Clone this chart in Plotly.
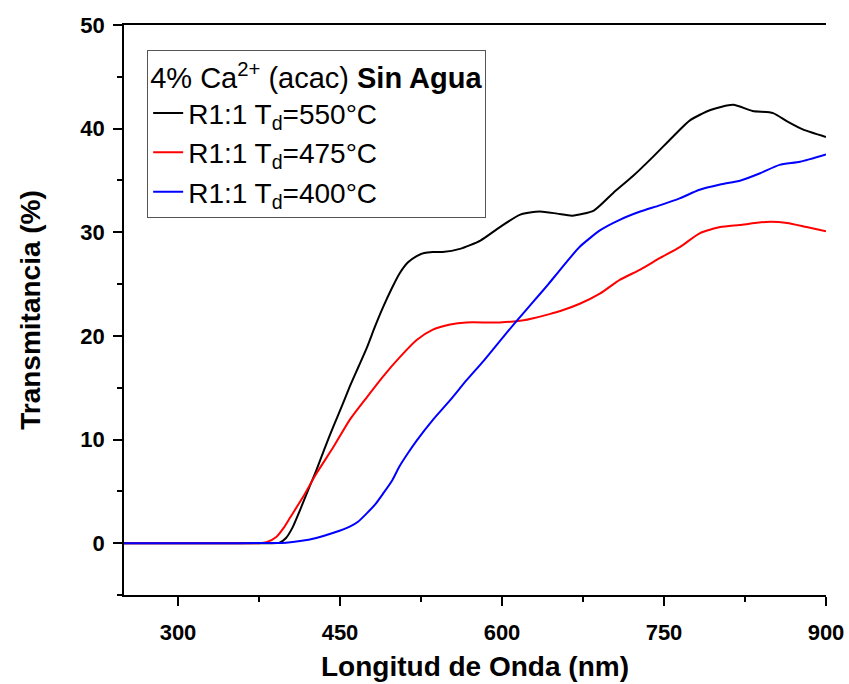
import plotly.graph_objects as go

# ---- data ----
x_550 = [250, 300, 350, 385, 394, 400, 406, 413, 420, 428, 436, 444, 452, 459, 467, 475, 482, 490, 498, 505,
         513, 521, 528, 536, 545, 561, 580, 598, 617, 635, 651, 665, 685, 703, 721, 740, 758, 774, 793, 814,
         832, 851, 864, 879, 900]
y_550 = [0, 0, 0, 0, 0.05, 0.5, 1.5, 3.2, 5.0, 7.0, 9.2, 11.3, 13.3, 15.1, 17.0, 18.9, 20.8, 22.8, 24.6, 26.0,
         27.1, 27.7, 28.0, 28.1, 28.1, 28.4, 29.2, 30.5, 31.7, 32.0, 31.8, 31.6, 32.1, 33.8, 35.4, 37.3, 39.2,
         40.8, 41.8, 42.3, 41.7, 41.5, 40.7, 39.9, 39.2]

x_475 = [250, 300, 350, 375, 382, 391, 398, 404, 416, 428, 444, 459, 475, 490, 505, 521, 536, 552, 567, 598,
         620, 629, 644, 654, 672, 691, 709, 728, 746, 765, 783, 802, 820, 845, 864, 882, 900]
y_475 = [0, 0, 0, 0, 0.1, 0.6, 1.5, 2.5, 4.5, 6.7, 9.3, 11.9, 14.1, 16.1, 17.9, 19.6, 20.6, 21.1, 21.3, 21.3,
         21.5, 21.7, 22.1, 22.4, 23.1, 24.1, 25.4, 26.4, 27.5, 28.6, 29.9, 30.5, 30.7, 31.0, 30.9, 30.5, 30.1]

x_400 = [250, 300, 350, 400, 413, 428, 444, 459, 467, 475, 483, 490, 498, 505, 513, 521, 536, 552, 567, 583,
         598, 614, 629, 643, 654, 672, 691, 709, 728, 746, 765, 783, 802, 821, 839, 857, 876, 900]
y_400 = [0, 0, 0, 0.05, 0.2, 0.5, 1.0, 1.6, 2.1, 2.9, 3.8, 4.8, 6.0, 7.4, 8.7, 9.9, 11.9, 13.8, 15.7, 17.6,
         19.5, 21.5, 23.3, 25.0, 26.4, 28.6, 30.2, 31.2, 32.0, 32.6, 33.3, 34.1, 34.6, 35.0, 35.7, 36.5, 36.8,
         37.5]

names = ["R1:1 T<sub>d</sub>=550°C", "R1:1 T<sub>d</sub>=475°C", "R1:1 T<sub>d</sub>=400°C"]
colors = ["#000000", "#ff0000", "#0000ff"]

x_ticks = [300, 450, 600, 750, 900]
y_ticks = [0, 10, 20, 30, 40, 50]

FONT = "Liberation Sans, Arial, sans-serif"

fig = go.Figure()
for xs, ys, nm, c in zip([x_550, x_475, x_400], [y_550, y_475, y_400], names, colors):
    fig.add_trace(go.Scatter(x=xs, y=ys, mode="lines", name=nm,
                             line=dict(color=c, width=2, shape="spline", smoothing=0.6)))

axis_common = dict(showgrid=False, zeroline=False, linecolor="black", linewidth=1.5,
                   ticks="outside", tickcolor="black", tickwidth=1.5, ticklen=9,
                   automargin=False,
                   tickfont=dict(family=FONT, size=22, color="black", weight="bold"))

fig.update_layout(
    width=849, height=684,
    margin=dict(l=124, r=23, t=25, b=89),
    plot_bgcolor="white", paper_bgcolor="white",
    font=dict(family=FONT, color="black"),
    xaxis=dict(range=[250, 900], tickvals=x_ticks, mirror=True, ticklabelstandoff=8,
               minor=dict(ticks="outside", dtick=75, tick0=225, ticklen=5, tickwidth=1.5, tickcolor="black"),
               title=dict(text="Longitud de Onda (nm)", standoff=12,
                          font=dict(family=FONT, size=28, color="black", weight="bold")),
               **axis_common),
    yaxis=dict(range=[-5, 50], tickvals=y_ticks, ticklabelstandoff=4,
               minor=dict(ticks="outside", dtick=5, tick0=0, ticklen=5, tickwidth=1.5, tickcolor="black"),
               title=dict(text="Transmitancia (%)", standoff=32,
                          font=dict(family=FONT, size=28, color="black", weight="bold")),
               **axis_common),
    yaxis2=dict(range=[-5, 50], overlaying="y", side="right", tickvals=y_ticks,
                showticklabels=False, showgrid=False, zeroline=False, showline=True, automargin=False,
                linecolor="black", linewidth=2, ticks="inside", ticklen=9, tickwidth=1.5,
                tickcolor="black",
                minor=dict(ticks="inside", dtick=5, tick0=0, ticklen=5, tickwidth=1.5, tickcolor="black")),
    legend=dict(x=0.033, y=0.957, xanchor="left", yanchor="top",
                bordercolor="#555555", borderwidth=1, bgcolor="white",
                font=dict(family=FONT, size=28, color="black"),
                title=dict(text="4% Ca<sup>2+</sup> (acac) <b>Sin Agua</b>",
                           font=dict(family=FONT, size=29, color="black"), side="top"),
                tracegroupgap=0),
)

fig.write_html("out.html")
